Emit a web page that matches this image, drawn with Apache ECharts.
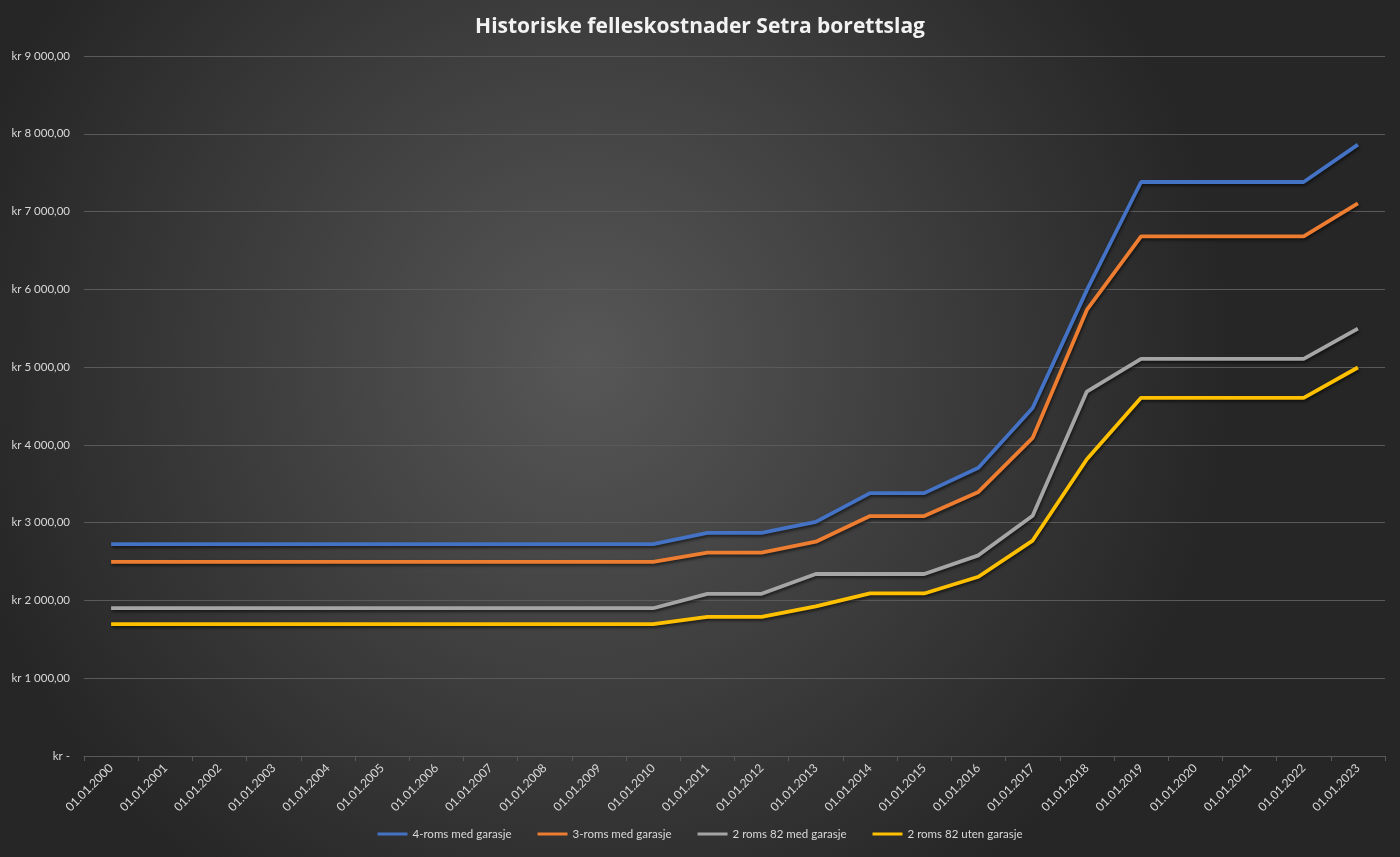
<!DOCTYPE html>
<html lang="no">
<head>
<meta charset="utf-8">
<script src="https://cdn.jsdelivr.net/npm/echarts@6/dist/echarts.min.js"></script>
<style>
  html, body { margin: 0; padding: 0; }
  #chart { width: 1400px; height: 857px; }
</style>
</head>
<body>
<div id="chart"></div>
<script>
// år (kategorier)
var years = ['01.01.2000','01.01.2001','01.01.2002','01.01.2003','01.01.2004','01.01.2005',
  '01.01.2006','01.01.2007','01.01.2008','01.01.2009','01.01.2010','01.01.2011','01.01.2012',
  '01.01.2013','01.01.2014','01.01.2015','01.01.2016','01.01.2017','01.01.2018','01.01.2019',
  '01.01.2020','01.01.2021','01.01.2022','01.01.2023'];

// felleskostnader per måned
var roms4Garasje = [2725,2725,2725,2725,2725,2725,2725,2725,2725,2725,2725,2870,2870,3010,3380,3380,3705,4475,5990,7380,7380,7380,7380,7860];
var roms3Garasje = [2495,2495,2495,2495,2495,2495,2495,2495,2495,2495,2495,2615,2615,2755,3085,3085,3395,4090,5735,6680,6680,6680,6680,7105];
var roms2Med     = [1900,1900,1900,1900,1900,1900,1900,1900,1900,1900,1900,2085,2085,2340,2340,2340,2580,3090,4685,5105,5105,5105,5105,5495];
var roms2Uten    = [1695,1695,1695,1695,1695,1695,1695,1695,1695,1695,1695,1790,1790,1925,2090,2090,2305,2770,3815,4605,4605,4605,4605,4995];

var seriesNames = ['4-roms med garasje','3-roms med garasje','2 roms 82 med garasje','2 roms 82 uten garasje'];
var seriesData = [roms4Garasje, roms3Garasje, roms2Med, roms2Uten];
var colors = ['#4472c4','#ed7d31','#a5a5a5','#ffc000'];

function krFormat(v) {
  if (v === 0) return 'kr -';
  var s = String(Math.round(v)).replace(/\B(?=(\d{3})+(?!\d))/g, ' ');
  return 'kr ' + s + ',00';
}

var chart = echarts.init(document.getElementById('chart'));
chart.setOption({
  backgroundColor: new echarts.graphic.RadialGradient(0.42, 0.42, 0.75, [
    { offset: 0, color: '#575757' },
    { offset: 1, color: '#262626' }
  ]),
  textStyle: { fontFamily: 'Lato, "Open Sans", sans-serif' },
  title: {
    text: 'Historiske felleskostnader Setra borettslag',
    left: 'center',
    top: 12,
    textStyle: { color: '#f2f2f2', fontSize: 21, fontWeight: 'bold', fontFamily: '"Open Sans", sans-serif' }
  },
  legend: {
    bottom: 12,
    left: 'center',
    itemWidth: 30,
    itemHeight: 3,
    itemGap: 26,
    icon: 'rect',
    textStyle: { color: '#d9d9d9', fontSize: 11.5 },
    data: seriesNames
  },
  grid: { left: 84, right: 15, top: 56, bottom: 101, outerBoundsMode: 'none', containLabel: false },
  xAxis: {
    type: 'category',
    data: years,
    boundaryGap: true,
    axisLine: { lineStyle: { color: '#595959' } },
    axisTick: { show: true, alignWithLabel: false, lineStyle: { color: '#595959' } },
    axisLabel: { color: '#d9d9d9', fontSize: 12, rotate: 45, interval: 0, margin: 10 }
  },
  yAxis: {
    type: 'value',
    min: 0,
    max: 9000,
    interval: 1000,
    axisLine: { show: false },
    axisTick: { show: false },
    splitLine: { lineStyle: { color: '#5a5a5a', width: 1 } },
    axisLabel: { color: '#d9d9d9', fontSize: 11.5, formatter: krFormat, margin: 14, align: 'right' }
  },
  series: seriesData.map(function (d, i) {
    return {
      name: seriesNames[i],
      type: 'line',
      data: d,
      symbol: 'none',
      smooth: false,
      color: colors[i],
      lineStyle: {
        width: 3.8,
        color: colors[i],
        shadowColor: 'rgba(0,0,0,0.55)',
        shadowBlur: 3,
        shadowOffsetY: 2,
        shadowOffsetX: 1
      }
    };
  })
});
</script>
</body>
</html>
